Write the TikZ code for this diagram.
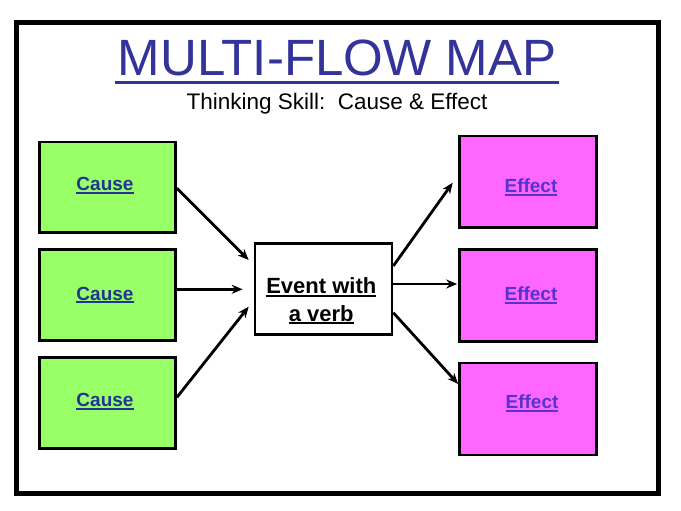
\documentclass[tikz,border=0pt]{standalone}
\usepackage{fontspec}
\setmainfont{Liberation Sans}
\usetikzlibrary{arrows.meta}
\definecolor{titleblue}{RGB}{51,51,153}
\definecolor{causeblue}{RGB}{34,51,150}
\definecolor{effectblue}{RGB}{85,51,204}
\definecolor{causegreen}{RGB}{153,255,102}
\definecolor{effectpink}{RGB}{255,102,255}
\newcommand\myul[1]{\setbox0\hbox{#1}\rlap{\vrule width\wd0 height -1.2pt depth 3.2pt}\box0}
\tikzset{
  box/.style={draw=black, line width=2.6pt, minimum width=136pt, minimum height=90pt, inner sep=0pt},
  causebox/.style={box, fill=causegreen},
  effectbox/.style={box, fill=effectpink, minimum width=137pt},
  eventbox/.style={box, fill=white, minimum width=137pt, minimum height=91pt},
  lbl/.style={anchor=base, inner sep=0pt, font=\fontsize{19}{23}\selectfont\bfseries},
  evlbl/.style={anchor=base, inner sep=0pt, font=\fontsize{22}{26}\selectfont\bfseries},
  arr/.style={line width=2.8pt, -{Stealth[length=11pt,width=9pt]}},
}
\begin{document}
\begin{tikzpicture}[x=1pt,y=-1pt]
\useasboundingbox (0,0) rectangle (681,511);
\fill[white] (0,0) rectangle (681,511);
\draw[line width=5pt] (16.5,22.5) rectangle (658.5,493);
% title
\node[anchor=base, inner sep=0pt, text=titleblue, font=\fontsize{51}{60}\selectfont] (title) at (337,75.7) {MULTI-FLOW MAP};
\draw[titleblue, line width=3pt] ([xshift=-3pt,yshift=-7pt]title.base west) -- ([xshift=3pt,yshift=-7pt]title.base east);
\node[anchor=base, inner sep=0pt, font=\fontsize{22.5}{27}\selectfont] (sub) at (337,110) {Thinking Skill:\ \ Cause \& Effect};
% cause boxes
\node[causebox] (c1) at (107.6,187.2) {};
\node[causebox, minimum height=91pt] (c2) at (107.6,295) {};
\node[causebox, minimum height=91pt] (c3) at (107.6,403) {};
\node[lbl, text=causeblue] (c1t) at (105,190.7) {\myul{Cause}};
\node[lbl, text=causeblue] (c2t) at (105,300) {\myul{Cause}};
\node[lbl, text=causeblue] (c3t) at (105,406.7) {\myul{Cause}};
% effect boxes
\node[effectbox, minimum height=91pt] (e1) at (528,181.7) {};
\node[effectbox, minimum height=92pt] (e2) at (528,295.2) {};
\node[effectbox, minimum height=92pt] (e3) at (528,408.8) {};
\node[lbl, text=effectblue] (e1t) at (531,192.3) {\myul{Effect}};
\node[lbl, text=effectblue] (e2t) at (531,300.7) {\myul{Effect}};
\node[lbl, text=effectblue] (e3t) at (532,408.3) {\myul{Effect}};
% event box
\node[eventbox] (ev) at (323.5,289) {};
\node[evlbl] (ev1) at (321.3,293.3) {\myul{Event with}};
\node[evlbl] (ev2) at (321.3,321) {\myul{a verb}};
% arrows
\draw[arr] ([yshift=-1pt]c1.east) -- ([xshift=-5pt,yshift=29pt]ev.west);
\draw[arr] ([yshift=5.7pt]c2.east) -- ([xshift=-11pt,yshift=-0.3pt]ev.west);
\draw[arr] ([yshift=5.7pt]c3.east) -- ([xshift=-5pt,yshift=-17.7pt]ev.west);
\draw[arr] ([yshift=23pt]ev.east) -- ([xshift=-5.5pt,yshift=-1pt]e1.west);
\draw[arr] ([yshift=5pt]ev.east) -- ([xshift=-1pt,yshift=11.2pt]e2.west);
\draw[arr] ([yshift=-23.7pt]ev.east) -- ([xshift=0pt,yshift=24.8pt]e3.west);
\end{tikzpicture}
\end{document}
